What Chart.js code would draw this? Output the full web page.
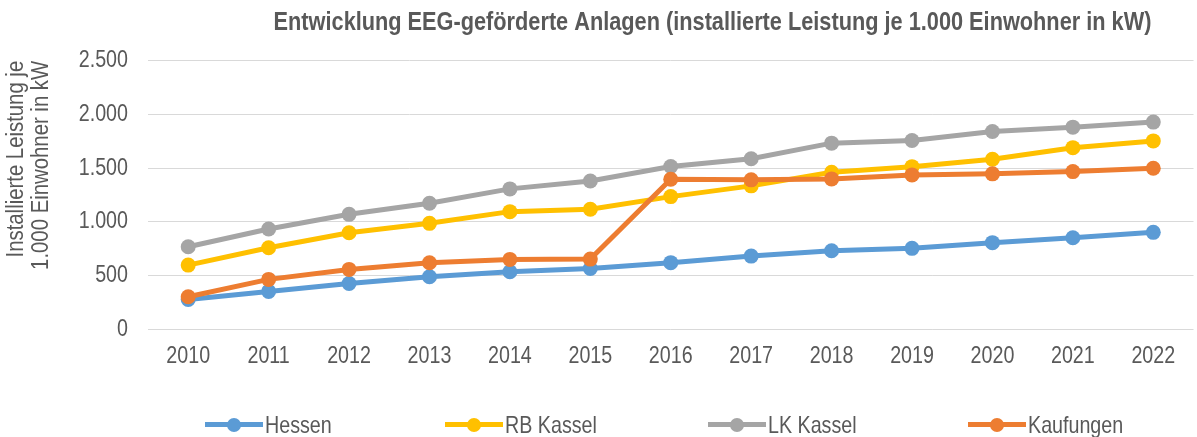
<!DOCTYPE html>
<html><head><meta charset="utf-8">
<script src="https://cdn.jsdelivr.net/npm/chart.js@4"></script>
<style>
html,body{margin:0;padding:0;background:#fff;overflow:hidden;width:1197px;height:437px;}
#c{position:absolute;left:0;top:0;}
#legend{position:absolute;left:0;top:412px;width:1197px;height:25px;font-family:"Liberation Sans",Arial,sans-serif;font-size:24px;color:#595959;}
.item{position:absolute;top:0;height:25px;display:flex;align-items:center;}
.mk{position:relative;width:58px;height:25px;margin-right:2px;flex:none;}
.mk .ln{position:absolute;left:0;top:10px;width:58px;height:5px;}
.mk .dt{position:absolute;left:22px;top:5.5px;width:14px;height:14px;border-radius:50%;}
.item span{display:inline-block;transform:scaleX(0.82);transform-origin:left center;white-space:nowrap;}
</style>
</head><body>
<canvas id="c" width="1201" height="437"></canvas>
<div id="legend"></div>
<script>
const years = ['2010','2011','2012','2013','2014','2015','2016','2017','2018','2019','2020','2021','2022'];
const hessen = [277, 352, 426, 488, 535, 566, 620, 681, 731, 753, 806, 852, 902];
const rbKassel = [597, 759, 899, 986, 1095, 1117, 1235, 1335, 1462, 1514, 1583, 1691, 1754];
const lkKassel = [768, 933, 1070, 1173, 1307, 1381, 1515, 1587, 1733, 1758, 1842, 1882, 1929];
const kaufungen = [302, 464, 557, 619, 650, 653, 1397, 1391, 1400, 1437, 1447, 1468, 1499];
const seriesNames = ['Hessen','RB Kassel','LK Kassel','Kaufungen'];
const seriesColors = ['#5B9BD5','#FFC000','#A5A5A5','#ED7D31'];
const yTicks = [0, 500, 1000, 1500, 2000, 2500];
const chartTitle = 'Entwicklung EEG-geförderte Anlagen (installierte Leistung je 1.000 Einwohner in kW)';
const yTitle = ['Installierte Leistung je', '1.000 Einwohner in kW'];

const fmt = v => String(v).replace(/\B(?=(\d{3})+(?!\d))/g, '.');
const FONT = '"Liberation Sans", Arial, sans-serif';
const GREY = '#595959';
const NARROW = 0.82; // narrow type, as in the reference

const canvas = document.getElementById('c');
const ctx2d = canvas.getContext('2d');
const origFillText = ctx2d.fillText;
ctx2d.fillText = function (text, x, y, maxWidth) {
  this.save();
  this.translate(x, y);
  this.scale(NARROW, 1);
  if (maxWidth !== undefined) origFillText.call(this, text, 0, 0, maxWidth / NARROW);
  else origFillText.call(this, text, 0, 0);
  this.restore();
};

const values = [hessen, rbKassel, lkKassel, kaufungen];
const datasets = values.map((d, i) => ({
  label: seriesNames[i],
  data: d,
  borderColor: seriesColors[i],
  backgroundColor: seriesColors[i],
  borderWidth: 5,
  pointRadius: 7.5,
  pointBorderWidth: 0,
  pointBackgroundColor: seriesColors[i],
  tension: 0,
  order: values.length - i
}));

const shiftPlugin = {
  id: 'shiftTitle',
  afterLayout(chart) {
    const t = chart.titleBlock;
    if (t) { t.left += 112; t.right += 112; }
  }
};

new Chart(canvas, {
  type: 'line',
  data: { labels: years, datasets },
  plugins: [shiftPlugin],
  options: {
    responsive: false,
    animation: false,
    devicePixelRatio: 1,
    layout: { padding: { left: 0, right: 0, top: 0, bottom: 53 } },
    plugins: {
      legend: { display: false },
      tooltip: { enabled: false },
      title: {
        display: true,
        text: chartTitle,
        color: GREY,
        font: { family: FONT, size: 26.5, weight: 'bold', lineHeight: 1.2 },
        padding: { top: 7, bottom: 22 }
      }
    },
    scales: {
      x: {
        offset: true,
        grid: { display: false, drawTicks: false },
        border: { display: false },
        ticks: { color: GREY, font: { family: FONT, size: 24 }, padding: 13, maxRotation: 0 }
      },
      y: {
        min: 0, max: 2500,
        afterBuildTicks: s => { s.ticks = yTicks.map(v => ({ value: v })); },
        afterFit: s => { s.width = 148; },
        grid: { color: '#D9D9D9', lineWidth: 1, drawTicks: false },
        border: { display: false },
        ticks: { color: GREY, font: { family: FONT, size: 24 }, padding: 20, callback: v => fmt(v) },
        title: {
          display: true,
          text: yTitle,
          align: 'end',
          color: GREY,
          font: { family: FONT, size: 24.8, lineHeight: '25px' },
          padding: { top: 4, bottom: 0 }
        }
      }
    }
  }
});

const legendPos = [205, 445, 708, 968];
const lg = document.getElementById('legend');
seriesNames.forEach((n, i) => {
  const it = document.createElement('div');
  it.className = 'item';
  it.style.left = legendPos[i] + 'px';
  it.innerHTML = '<div class="mk"><div class="ln" style="background:' + seriesColors[i] + '"></div><div class="dt" style="background:' + seriesColors[i] + '"></div></div><span>' + n + '</span>';
  lg.appendChild(it);
});
</script>
</body></html>
